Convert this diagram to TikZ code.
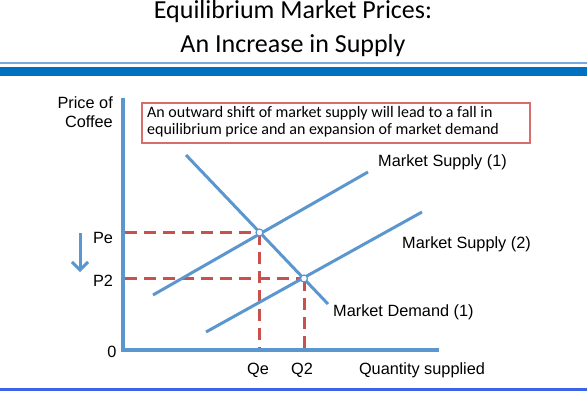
\documentclass[tikz,border=0pt]{standalone}
\usepackage{fontspec}
\setmainfont{Liberation Sans}
\newfontfamily\calib{Carlito}
\usetikzlibrary{arrows.meta}
\definecolor{axblue}{RGB}{91,150,206}
\definecolor{barblue}{RGB}{0,112,192}
\definecolor{lightbar}{RGB}{120,170,220}
\definecolor{footblue}{RGB}{60,100,230}
\definecolor{dred}{RGB}{200,80,77}
\definecolor{boxred}{RGB}{215,110,110}
\tikzset{
  axisline/.style={draw=axblue, line width=4pt},
  curve/.style={draw=axblue, line width=3pt},
  guide/.style={draw=dred, line width=3pt, dash pattern=on 12pt off 7pt},
  eqpt/.style={circle, draw=axblue, fill=white, line width=1.2pt, inner sep=0pt, minimum size=7pt},
  lbl/.style={font=\fontsize{16.3}{19}\selectfont, inner sep=0pt},
}
\begin{document}
\begin{tikzpicture}[x=1pt,y=-1pt]
\useasboundingbox (0,0) rectangle (587,396);
% title
\node[font=\calib\fontsize{26}{34}\selectfont, align=center, inner sep=0pt, anchor=base] (title) at (293,53) {Equilibrium Market Prices:\\An Increase in Supply};
% header bars
\fill[lightbar] (0,62.5) rectangle (587,64);
\fill[barblue] (0,67) rectangle (587,76);
% footer line
\fill[footblue] (0,388) rectangle (587,390.5);
% axes
\coordinate (O) at (123,350);
\coordinate (Ytop) at (123,98);
\coordinate (Xend) at (439,350);
\draw[axisline] (Ytop) -- (O) -- (Xend);
% info box
\node[draw=boxred, line width=1.5pt, fill=white, minimum width=388pt, minimum height=40pt, inner sep=0pt] (box) at (336,123) {};
\node[anchor=base west, align=left, inner sep=0pt, font=\calib\fontsize{16}{17.5}\selectfont] (boxtext) at (147,135)
  {An outward shift of market supply will lead to a fall in\\equilibrium price and an expansion of market demand};
% curves
\coordinate (D1) at (186,155);
\coordinate (D2) at (328,304);
\coordinate (S1a) at (153,295);
\coordinate (S1b) at (368,172);
\coordinate (S2a) at (206,332);
\coordinate (S2b) at (422,212);
\coordinate (E1) at (259.5,232.5);
\coordinate (E2) at (304,278.5);
% guides
\coordinate (PeA) at (125,232.5);
\coordinate (P2A) at (125,278.5);
\coordinate (QeA) at (259.5,348);
\coordinate (Q2A) at (304,348);
\draw[guide] (PeA) -- (E1);
\draw[guide] (P2A) -- (E2);
\draw[guide] (E1) -- (QeA);
\draw[guide] (E2) -- (Q2A);
\draw[curve] (D1) -- (D2);
\draw[curve] (S1a) -- (S1b);
\draw[curve] (S2a) -- (S2b);
\node[eqpt] (e1) at (E1) {};
\node[eqpt] (e2) at (E2) {};
% axis labels
\node[lbl, align=right, anchor=north east] (ylab) at (113,96) {Price of\\Coffee};
\node[lbl] (pe) at (103,238) {Pe};
\node[lbl] (p2) at (103,281) {P2};
\node[lbl] (zero) at (112,352) {0};
\node[lbl] (qe) at (258,370) {Qe};
\node[lbl] (q2) at (302,370) {Q2};
\node[lbl] (qs) at (422,370) {Quantity supplied};
\node[lbl, anchor=west] (ms1) at (378,162) {Market Supply (1)};
\node[lbl, anchor=west] (ms2) at (402,244) {Market Supply (2)};
\node[lbl, anchor=west] (md1) at (333,312) {Market Demand (1)};
% price arrow
\coordinate (arA) at (80,233);
\coordinate (arB) at (80,272);
\draw[axblue, line width=3pt, -{Straight Barb[length=8pt,width=16pt]}] (arA) -- (arB);
\end{tikzpicture}
\end{document}
